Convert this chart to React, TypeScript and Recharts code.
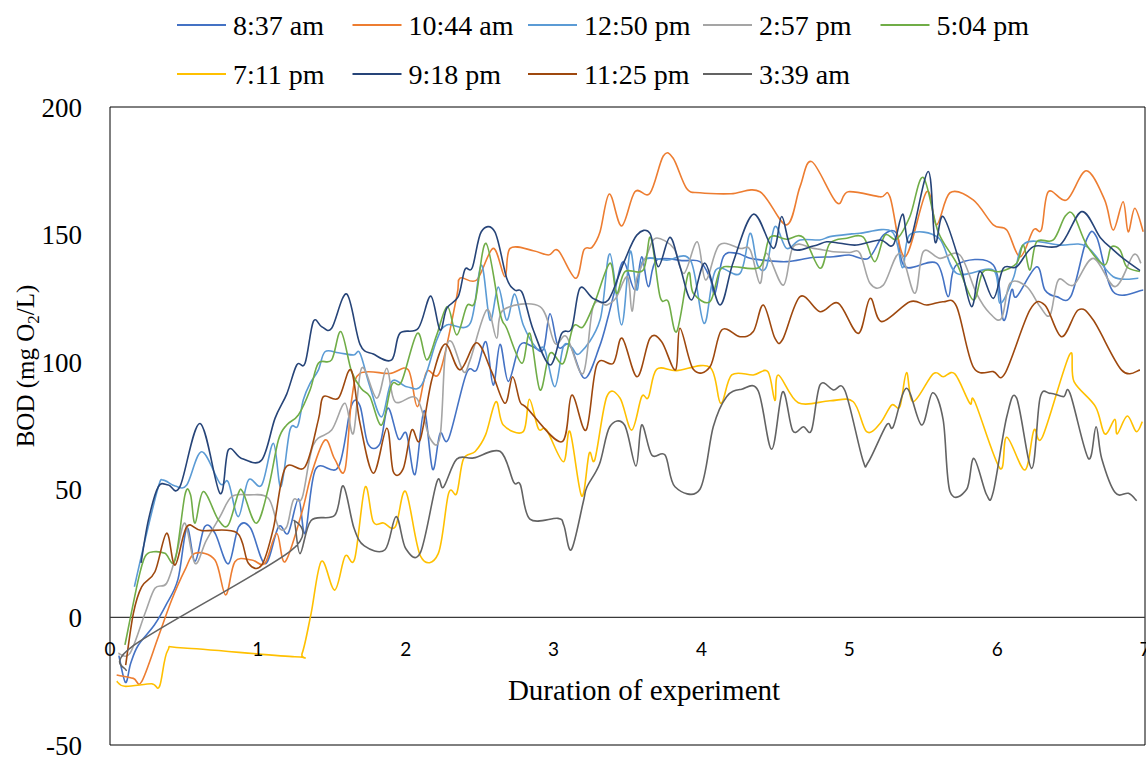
import React from 'react';
import { LineChart, Line, XAxis, YAxis, ReferenceLine, ReferenceArea, Legend } from 'recharts';

type Pt = [number, number];

const s0837: Pt[] = [[0.06,-15],[0.105,-25.5],[0.14,-18],[0.19,-11],[0.3,-3],[0.38,5],[0.46,15],[0.52,35],[0.575,22],[0.64,35.5],[0.71,33],[0.8,21],[0.87,35.5],[0.95,35],[1.05,21],[1.14,35.5],[1.205,33],[1.275,46.5],[1.32,33],[1.39,58],[1.545,59],[1.63,82.5],[1.69,83],[1.745,68],[1.825,68],[1.88,82],[1.95,70],[2.005,72],[2.063,56],[2.124,81],[2.182,58],[2.232,72],[2.29,70],[2.41,95.5],[2.48,97],[2.543,108],[2.592,91],[2.638,107],[2.694,92.5],[2.773,106.7],[2.863,106],[2.931,105],[2.976,119],[3.032,106],[3.11,106.7],[3.21,93.7],[3.31,106],[3.37,118],[3.415,128.3],[3.473,139.4],[3.55,128.3],[3.596,141.3],[3.641,129.6],[3.697,140],[3.877,139.8],[3.99,139.4],[4.058,133],[4.092,127],[4.148,141.3],[4.238,142.7],[4.329,140.7],[4.419,140],[4.576,139.4],[4.75,141],[4.892,141.3],[5.0,142],[5.129,140.7],[5.23,149.8],[5.32,150.5],[5.376,137.4],[5.59,138.8],[5.669,125.7],[5.726,138.1],[5.974,138.1],[6.042,116.5],[6.098,128.3],[6.132,125.7],[6.267,137.4],[6.323,128.3],[6.402,125.7],[6.5,126],[6.606,148.2],[6.674,148.9],[6.785,127.6],[6.988,128.3]];

const s1044: Pt[] = [[0.045,-22.6],[0.158,-23.9],[0.214,-25.2],[0.327,-7.6],[0.417,6.8],[0.507,18.6],[0.575,25.1],[0.71,22.5],[0.782,8.8],[0.845,21.8],[0.958,22.5],[1.048,21.2],[1.127,33],[1.184,21.8],[1.296,40.8],[1.364,56.5],[1.454,69.5],[1.52,62],[1.589,57.8],[1.634,85.2],[1.691,95.6],[1.893,95.6],[2.017,97],[2.078,82.6],[2.142,96.3],[2.232,96.3],[2.345,125.7],[2.367,132.9],[2.48,132.2],[2.592,144.6],[2.671,133.5],[2.706,144.6],[2.863,143.7],[2.965,142],[3.032,143.7],[3.15,132.9],[3.205,144],[3.26,145],[3.314,151],[3.377,165.9],[3.46,153.4],[3.55,166.8],[3.652,166.2],[3.742,180.8],[3.809,179.9],[3.9,168.1],[3.99,166.4],[4.2,166],[4.396,166.8],[4.576,153.8],[4.667,168.8],[4.746,178.6],[4.915,162.5],[4.993,166.8],[5.208,164.8],[5.275,164.8],[5.376,141.3],[5.523,166.8],[5.59,153.8],[5.681,166.4],[5.838,163.6],[5.974,153.8],[6.065,151.8],[6.155,141.3],[6.245,151.8],[6.3,152],[6.346,166.8],[6.471,163.6],[6.603,175],[6.727,163.6],[6.785,151.8],[6.852,162.9],[6.886,151.1],[6.931,160.3],[6.988,151.1]];

const s1250: Pt[] = [[0.165,12],[0.237,30.3],[0.327,51.2],[0.361,53.8],[0.44,51.5],[0.519,51.9],[0.62,64.9],[0.744,52.5],[0.8,53],[0.868,39.5],[0.936,53.8],[1.026,51.9],[1.105,68.2],[1.156,51.2],[1.217,73.4],[1.27,75],[1.307,85.2],[1.353,91.7],[1.409,96.9],[1.454,104.1],[1.545,103.7],[1.646,102.8],[1.691,103.5],[1.758,90.4],[1.837,78.6],[1.905,92.4],[2.007,90.4],[2.108,91.1],[2.21,108.7],[2.277,114.6],[2.436,115.2],[2.511,138.1],[2.57,116.5],[2.626,129.4],[2.683,116.5],[2.737,126.7],[2.795,114.6],[2.886,105.4],[2.94,105],[3.009,90.4],[3.066,106.1],[3.12,106],[3.178,103.5],[3.314,116.5],[3.381,142.5],[3.46,114.6],[3.517,143.3],[3.563,128.3],[3.607,140],[3.765,140],[3.927,139.8],[4.018,115.2],[4.097,136.1],[4.261,134.8],[4.329,150.5],[4.38,138],[4.44,137.4],[4.497,153.1],[4.576,144.6],[4.667,147.9],[4.8,147.9],[4.869,149.2],[5.005,150.2],[5.072,150.5],[5.29,151.1],[5.36,137],[5.41,150],[5.606,148.6],[5.726,134.8],[5.974,136.1],[6.019,123.1],[6.109,132.9],[6.188,146.6],[6.425,145.9],[6.606,145.3],[6.785,133.5],[6.955,132.9]];

const s0257: Pt[] = [[0.056,-14.1],[0.135,-14.1],[0.237,1.6],[0.304,11.4],[0.383,13.4],[0.45,25],[0.507,36.9],[0.575,21.2],[0.65,30],[0.744,39.5],[0.823,47.3],[0.936,48],[1.071,46.7],[1.139,35.5],[1.195,35.5],[1.24,46],[1.3,47],[1.375,67.6],[1.499,73.4],[1.589,83.9],[1.646,72.1],[1.702,97.7],[1.804,85.9],[1.872,97.6],[1.928,84.5],[2.074,85.9],[2.164,70.2],[2.232,70.8],[2.266,102.2],[2.311,108],[2.39,96.3],[2.436,100.9],[2.548,120.5],[2.615,109.4],[2.66,120.5],[2.908,121.8],[3.009,107.4],[3.088,110],[3.2,95.6],[3.268,121.8],[3.359,122.4],[3.42,125],[3.5,133.5],[3.53,120],[3.563,132.9],[3.631,142],[3.69,148.6],[3.814,144.6],[3.882,134.8],[3.972,147.2],[4.029,132.2],[4.12,145.9],[4.261,144.6],[4.33,144],[4.396,130.9],[4.44,142.7],[4.554,130.2],[4.622,145.3],[4.757,144.6],[4.892,143.3],[5.0,143],[5.072,142.7],[5.14,130.9],[5.23,130.2],[5.342,142.7],[5.443,127],[5.5,143.3],[5.613,140.7],[5.748,142],[5.86,127],[5.95,119.2],[6.03,117.2],[6.087,130.9],[6.2,129.6],[6.29,121.8],[6.358,118.5],[6.414,132.2],[6.516,130.2],[6.65,140.7],[6.798,129.6],[6.921,142],[6.973,138.8]];

const s0504: Pt[] = [[0.101,-10.8],[0.191,14.7],[0.237,23.8],[0.293,25.7],[0.372,25.1],[0.44,22.5],[0.507,48],[0.545,48],[0.575,36.9],[0.631,49.3],[0.733,38.2],[0.8,36.2],[0.868,48.6],[0.9,49],[0.99,36.9],[1.071,50.6],[1.139,69.5],[1.195,75.4],[1.274,79.3],[1.353,89.1],[1.409,99.6],[1.499,100.9],[1.562,112],[1.634,96.3],[1.702,89.5],[1.758,86.5],[1.837,75.4],[1.905,91.1],[1.972,92.4],[2.078,111.3],[2.142,100.9],[2.21,110.7],[2.282,121.8],[2.345,110.7],[2.413,122],[2.47,124],[2.543,146.6],[2.638,119.2],[2.683,113.3],[2.785,99.6],[2.84,111.3],[2.908,89.1],[2.976,103.5],[3.066,99.6],[3.133,113.9],[3.2,113.9],[3.28,123.7],[3.381,138.8],[3.426,127],[3.483,135.5],[3.607,136.1],[3.657,148.9],[3.72,125.7],[3.776,123.7],[3.833,112],[3.911,134.8],[3.945,127],[4.058,123.7],[4.126,136.1],[4.216,137.4],[4.396,137.4],[4.463,148.9],[4.576,148.2],[4.689,148.9],[4.802,136.8],[4.869,146.6],[4.983,148.6],[5.095,149],[5.173,139.4],[5.241,149.8],[5.32,148.2],[5.41,157.1],[5.5,172.4],[5.601,151.1],[5.726,138.8],[5.838,124.4],[5.906,135.5],[6.019,135.5],[6.132,138.8],[6.177,145.9],[6.222,136.1],[6.267,147.2],[6.38,147.9],[6.459,157.1],[6.516,157.8],[6.606,145.9],[6.727,138.1],[6.77,145],[6.831,144],[6.876,137.4],[6.966,135.5]];

const s0711: Pt[] = [[0.045,-25],[0.1,-27],[0.28,-26],[0.335,-27],[0.39,-13],[0.5,-12],[1.25,-15.4],[1.3,-14],[1.36,1.5],[1.43,22],[1.52,10.7],[1.59,24],[1.655,23],[1.725,51],[1.78,37.5],[1.85,37],[1.93,35.5],[2.0,49.3],[2.1,24],[2.22,25],[2.29,48.6],[2.345,48.6],[2.39,62],[2.47,65],[2.54,71.5],[2.61,84.5],[2.66,75.4],[2.795,72.8],[2.836,85.5],[2.897,74],[2.953,73.4],[3.066,61],[3.111,72.8],[3.19,47.6],[3.241,64.3],[3.28,62],[3.36,86.5],[3.449,86],[3.528,73.4],[3.596,86.5],[3.641,86.2],[3.697,97.2],[3.832,96.7],[4.058,98],[4.13,83.9],[4.205,95],[4.351,95],[4.45,96.3],[4.497,85],[4.52,95],[4.655,84.1],[4.869,84.9],[5.027,84.5],[5.117,72.8],[5.208,76],[5.286,83.2],[5.342,82.6],[5.387,95.9],[5.432,84.5],[5.567,95.4],[5.635,94.3],[5.714,95.4],[5.815,83.9],[5.849,84.5],[6.019,58.4],[6.065,70.6],[6.188,57.8],[6.249,73.4],[6.307,70.8],[6.49,103],[6.52,92.4],[6.665,82.6],[6.728,71.9],[6.796,77.6],[6.812,71.9],[6.88,78.9],[6.941,72.8],[6.982,76.7]];

const s0918: Pt[] = [[0.21,21.4],[0.26,38.2],[0.327,51.2],[0.395,51.9],[0.473,51.2],[0.609,76],[0.744,48.6],[0.8,65.6],[0.89,62.3],[1.026,61.7],[1.116,78],[1.195,87.5],[1.263,98.9],[1.319,99.6],[1.375,115.9],[1.432,113.9],[1.499,113.3],[1.601,126.7],[1.691,107],[1.781,103.2],[1.905,100.9],[1.96,111.3],[2.085,113.3],[2.169,125.9],[2.232,112.6],[2.277,121.1],[2.355,125.7],[2.4,136.3],[2.45,137],[2.511,151.1],[2.603,151.1],[2.683,132.9],[2.737,128.3],[2.79,127],[2.863,112.6],[2.976,98.9],[3.055,111.3],[3.123,113.3],[3.178,129],[3.268,125],[3.37,124.4],[3.473,138.8],[3.563,149.8],[3.652,150.5],[3.708,137.4],[3.787,148.9],[3.855,137.4],[3.934,124.4],[4.024,138.8],[4.126,122.4],[4.216,139.4],[4.351,158],[4.486,144.6],[4.543,157.1],[4.611,144.6],[4.757,145.5],[4.847,147.2],[4.938,146.6],[5.05,145.9],[5.208,147.9],[5.297,145.9],[5.36,158],[5.41,147.2],[5.534,174.7],[5.58,147.2],[5.635,157.1],[5.748,138.8],[5.827,121.8],[5.883,135.5],[5.974,125],[6.042,136.8],[6.132,137.4],[6.245,145.3],[6.425,145.9],[6.572,159],[6.697,148.9],[6.785,144],[6.852,140.7],[6.966,135.9]];

const s1125: Pt[] = [[0.106,-18.7],[0.158,1.6],[0.214,12],[0.304,17.9],[0.383,33],[0.44,20.5],[0.519,35.5],[0.62,34],[0.857,33.2],[0.936,21.2],[1.026,20.5],[1.105,34.9],[1.184,58.4],[1.319,59],[1.409,77.4],[1.443,86.5],[1.545,85.9],[1.63,97],[1.691,76],[1.781,56.5],[1.872,74.1],[1.916,57.1],[1.984,58.4],[2.04,73.4],[2.097,69.5],[2.176,93],[2.266,107.1],[2.367,97],[2.48,107.6],[2.581,96.3],[2.671,83.9],[2.723,94.3],[2.773,84.5],[2.82,82],[3.055,68.8],[3.123,87.1],[3.22,73.4],[3.292,98.9],[3.404,99.6],[3.464,109.4],[3.565,94.3],[3.652,109.4],[3.731,108],[3.825,97],[3.855,113.3],[3.945,97.2],[4.058,98.2],[4.137,112.6],[4.261,110],[4.351,112],[4.419,122.4],[4.497,109.4],[4.55,109],[4.667,125.7],[4.802,119.8],[4.926,123.1],[5.061,111.3],[5.14,125],[5.219,115.9],[5.41,123.7],[5.523,122.4],[5.635,123.7],[5.726,121.8],[5.838,98.2],[5.974,96.3],[6.053,95.6],[6.222,120.5],[6.323,122.4],[6.436,110],[6.549,120.5],[6.65,116.5],[6.842,96.9],[6.966,96.9]];

const s0339: Pt[] = [[0.11,-21],[0.16,-11],[1.22,26],[1.245,38],[1.285,25],[1.36,38],[1.52,40],[1.578,51.5],[1.65,35],[1.72,28],[1.86,26.5],[1.935,39.5],[2.0,27],[2.1,25.5],[2.21,53],[2.255,51],[2.345,62],[2.46,62.5],[2.64,65],[2.73,53],[2.775,52],[2.84,38.5],[3.03,38.8],[3.07,36],[3.12,26.5],[3.2,45],[3.225,51],[3.31,60],[3.38,74.7],[3.48,75.4],[3.557,59.3],[3.596,75.4],[3.664,63.6],[3.754,63.6],[3.821,51.2],[3.99,50.2],[4.08,74.7],[4.17,86.5],[4.272,89.4],[4.384,88.8],[4.475,65.9],[4.549,88.4],[4.617,73.2],[4.689,74.7],[4.745,73.4],[4.802,91.1],[4.892,89.1],[4.971,88.8],[5.09,62],[5.13,61],[5.252,75.4],[5.297,74.7],[5.387,89.8],[5.489,75.4],[5.563,88],[5.635,77.4],[5.681,49.3],[5.794,50.2],[5.843,62.3],[5.929,48],[5.974,49.3],[6.065,78.6],[6.132,85.9],[6.234,58.4],[6.29,85.9],[6.358,87.8],[6.448,86.5],[6.493,87.8],[6.617,62.3],[6.669,74.7],[6.707,62.3],[6.798,48.9],[6.888,48.6],[6.944,45.7]];

const seriesNames = ['8:37 am', '10:44 am', '12:50 pm', '2:57 pm', '5:04 pm', '7:11 pm', '9:18 pm', '11:25 pm', '3:39 am'];
const seriesColors = ['#4472C4', '#ED7D31', '#5B9BD5', '#A5A5A5', '#70AD47', '#FFC000', '#264478', '#9E480E', '#636363'];
const seriesValues = [s0837, s1044, s1250, s0257, s0504, s0711, s0918, s1125, s0339];

const xTicks = [0, 1, 2, 3, 4, 5, 6, 7];
const yTicks = [-50, 0, 50, 100, 150, 200];

const W = 1146;
const H = 759;
const SERIF = '"Liberation Serif", "Times New Roman", serif';
const SANS = 'Lato, "Liberation Sans", sans-serif';

// Spreadsheet-style smoothed line: Catmull-Rom spline drawn as cubic Bezier segments.
function smoothCurve(context: any) {
  let pts: number[][] = [];
  return {
    areaStart() {},
    areaEnd() {},
    lineStart() {
      pts = [];
    },
    point(x: number, y: number) {
      pts.push([+x, +y]);
    },
    lineEnd() {
      const n = pts.length;
      if (n === 0) return;
      context.moveTo(pts[0][0], pts[0][1]);
      for (let i = 0; i < n - 1; i++) {
        const p0 = pts[i - 1] || pts[i];
        const p1 = pts[i];
        const p2 = pts[i + 1];
        const p3 = pts[i + 2] || p2;
        const c1x = p1[0] + (p2[0] - p0[0]) / 6;
        const c1y = p1[1] + (p2[1] - p0[1]) / 6;
        const c2x = p2[0] - (p3[0] - p1[0]) / 6;
        const c2y = p2[1] - (p3[1] - p1[1]) / 6;
        context.bezierCurveTo(c1x, c1y, c2x, c2y, p2[0], p2[1]);
      }
    },
  };
}

function XTick(props: any) {
  const { x, payload } = props;
  return (
    <text x={x} y={656} textAnchor="middle" fontFamily={SANS} fontSize={19} fill="#000">
      {payload.value}
    </text>
  );
}

function YTick(props: any) {
  const { y, payload } = props;
  return (
    <text x={82} y={y} dy="0.355em" textAnchor="end" fontFamily={SERIF} fontSize={27} fill="#000">
      {payload.value}
    </text>
  );
}

function XTitle() {
  return (
    <text x={644} y={700} textAnchor="middle" fontFamily={SERIF} fontSize={29} fill="#000">
      Duration of experiment
    </text>
  );
}

function YTitle() {
  const cx = 34;
  const cy = 366;
  return (
    <text x={cx} y={cy} transform={`rotate(-90, ${cx}, ${cy})`} textAnchor="middle" fontFamily={SERIF} fontSize={25} fill="#000">
      <tspan>BOD (mg O</tspan>
      <tspan dy={5} fontSize={17}>2</tspan>
      <tspan dy={-5}>/L)</tspan>
    </text>
  );
}

function LegendBox() {
  const colX = [177, 352.5, 528, 703, 880.5];
  return (
    <svg width={W} height={100} style={{ display: 'block' }}>
      {seriesNames.map((name, i) => {
        const row = i < 5 ? 0 : 1;
        const col = i < 5 ? i : i - 5;
        const cy = row === 0 ? 25 : 74;
        const x0 = colX[col];
        return (
          <g key={name}>
            <line x1={x0} x2={x0 + 49} y1={cy} y2={cy} stroke={seriesColors[i]} strokeWidth={1.8} />
            <text x={x0 + 56} y={cy + 10} fontFamily={SERIF} fontSize={28} fill="#000">
              {name}
            </text>
          </g>
        );
      })}
    </svg>
  );
}

export default function App() {
  return (
    <div style={{ position: 'absolute', left: 0, top: 0, width: W, height: H, background: '#fff' }}>
      <LineChart width={W} height={H} margin={{ top: 107, right: 1, left: 0, bottom: 0 }}>
        <XAxis
          type="number"
          dataKey="x"
          domain={[0, 7]}
          ticks={xTicks}
          interval={0}
          allowDataOverflow
          axisLine={false}
          tickLine={false}
          height={14}
          tick={<XTick />}
          label={<XTitle />}
        />
        <YAxis
          type="number"
          domain={[-50, 200]}
          ticks={yTicks}
          interval={0}
          allowDataOverflow
          axisLine={false}
          tickLine={false}
          width={110}
          tick={<YTick />}
          label={<YTitle />}
        />
        <ReferenceArea x1={0} x2={7} y1={-50} y2={200} fill="none" fillOpacity={0} stroke="#000" strokeWidth={1} />
        <ReferenceLine y={0} stroke="#3a3a3a" strokeWidth={1.2} />
        <Legend
          layout="horizontal"
          verticalAlign="middle"
          align="center"
          wrapperStyle={{ top: 0, left: 0, width: W, height: 100 }}
          content={() => <LegendBox />}
        />
        {seriesValues.map((pts, i) => (
          <Line
            key={seriesNames[i]}
            name={seriesNames[i]}
            data={pts.map(([x, y]) => ({ x, y }))}
            dataKey="y"
            type={smoothCurve as any}
            stroke={seriesColors[i]}
            strokeWidth={1.6}
            dot={false}
            activeDot={false}
            isAnimationActive={false}
          />
        ))}
      </LineChart>
    </div>
  );
}
